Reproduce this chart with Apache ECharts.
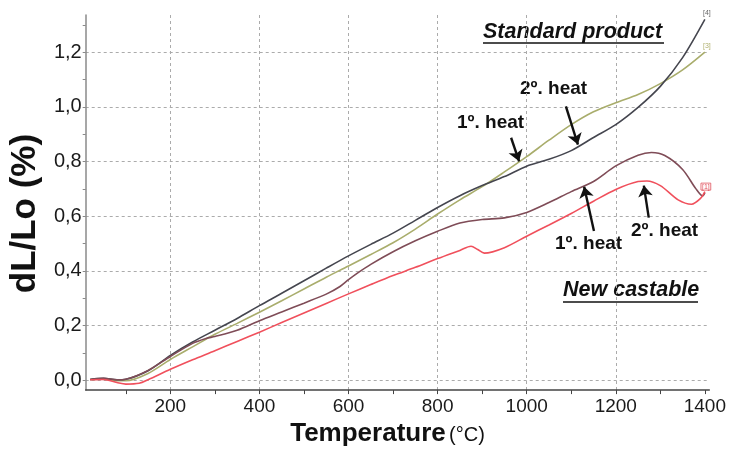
<!DOCTYPE html>
<html><head><meta charset="utf-8">
<script src="https://cdn.jsdelivr.net/npm/echarts@6/dist/echarts.min.js"></script>
<style>html,body{margin:0;padding:0;background:#fff}#c{width:729px;height:452px}</style>
</head><body><div id="c"></div>
<script>
// Standard product, 2º heat (dark curve, end mark [4])
const std2Temp = [20,50,80,100,150,200,250,300,350,400,450,500,550,600,650,700,750,800,850,900,950,1000,1050,1100,1150,1200,1250,1300,1350,1400];
const std2Val  = [0.003,0.007,0.002,0.004,0.035,0.091,0.140,0.183,0.226,0.273,0.318,0.364,0.410,0.455,0.497,0.538,0.585,0.632,0.675,0.712,0.745,0.783,0.808,0.840,0.888,0.935,0.998,1.075,1.180,1.320];
// Standard product, 1º heat (olive curve, end mark [3])
const std1Temp = [20,50,80,100,150,200,250,300,350,400,450,500,550,600,650,700,750,800,850,900,950,1000,1050,1100,1150,1200,1250,1300,1350,1400];
const std1Val  = [0.003,0.005,-0.002,-0.002,0.025,0.076,0.122,0.168,0.208,0.249,0.291,0.334,0.377,0.418,0.460,0.503,0.553,0.608,0.660,0.708,0.762,0.818,0.878,0.935,0.982,1.015,1.045,1.085,1.135,1.200];
// New castable, 1º heat (brown curve)
const new1Temp = [20,50,80,100,150,200,250,280,300,350,400,450,500,550,580,600,620,650,700,750,800,850,900,950,1000,1050,1100,1150,1200,1250,1280,1310,1350,1380,1395,1400];
const new1Val  = [0.003,0.007,0.002,0.004,0.036,0.087,0.135,0.153,0.160,0.183,0.218,0.250,0.282,0.315,0.342,0.368,0.392,0.424,0.470,0.510,0.545,0.575,0.588,0.594,0.614,0.650,0.690,0.727,0.784,0.823,0.833,0.822,0.771,0.700,0.674,0.686];
// New castable, 2º heat (red curve, end mark [1])
const new2Temp = [20,50,80,100,130,150,200,250,300,350,400,450,500,550,600,650,700,750,800,850,875,890,905,950,1000,1050,1100,1150,1200,1250,1270,1300,1340,1370,1390,1400];
const new2Val  = [0.002,0.003,-0.008,-0.014,-0.011,0.002,0.040,0.075,0.108,0.142,0.176,0.211,0.246,0.281,0.316,0.350,0.383,0.413,0.445,0.475,0.490,0.478,0.465,0.485,0.527,0.568,0.610,0.655,0.698,0.727,0.729,0.712,0.660,0.644,0.665,0.690];

const xTickValues  = [100,200,300,400,500,600,700,800,900,1000,1100,1200,1300,1400];
const xLabelValues = [200,400,600,800,1000,1200,1400];
const xGridValues  = [200,400,600,800,1000,1200];
const yTickValues  = [0,0.1,0.2,0.3,0.4,0.5,0.6,0.7,0.8,0.9,1.0,1.1,1.2,1.3];
const yLabelValues = [0,0.2,0.4,0.6,0.8,1.0,1.2];
const yGridValues  = [0,0.2,0.4,0.6,0.8,1.0,1.2];

// Arrow annotations: [fromTemp, fromVal, toTemp, toVal]
const arrowStd2 = [1088, 1.002, 1115, 0.862];
const arrowStd1 = [965, 0.887, 983, 0.801];
const arrowNew1 = [1151, 0.546, 1129, 0.708];
const arrowNew2 = [1274, 0.595, 1263, 0.712];

const zip = (a, b) => a.map((v, i) => [v, b[i]]);
const FONT = 'Liberation Sans, Arial, sans-serif';
const X_MIN = 10, X_MAX = 1410, Y_MIN = -0.036, Y_MAX = 1.336;

const chart = echarts.init(document.getElementById('c'), null, {renderer: 'canvas'});
const lineSeries = (name, data, color, endText, endStyle) => ({
  name, type: 'line', data, xAxisIndex: 0, yAxisIndex: 0,
  smooth: 0.3, showSymbol: false, symbol: 'none',
  lineStyle: {color, width: 1.6}, itemStyle: {color},
  endLabel: endText ? Object.assign({show: true, formatter: endText, fontSize: 7, fontFamily: FONT, distance: 0, align: 'center', offset: [2, -6]}, endStyle) : {show: false},
  z: 3
});

chart.setOption({
  animation: false,
  backgroundColor: '#ffffff',
  textStyle: {fontFamily: FONT},
  grid: {left: 85, right: 19, top: 15, bottom: 60, containLabel: false},
  xAxis: [{
    type: 'value', min: X_MIN, max: X_MAX,
    axisLine: {show: true, onZero: false, lineStyle: {color: '#444', width: 1.5}},
    axisTick: {show: true, customValues: xTickValues, length: 4, lineStyle: {color: '#444'}},
    axisLabel: {customValues: xLabelValues, fontSize: 19, color: '#1a1a1a', margin: 7, fontFamily: FONT,
      formatter: v => String(v)},
    splitLine: {show: false},
    name: '{b|Temperature} {n|(°C)}', nameLocation: 'middle', nameGap: 24,
    nameTextStyle: {padding: [0, 20, 0, 0], rich: {
      b: {fontSize: 26, fontWeight: 'bold', color: '#111', fontFamily: FONT},
      n: {fontSize: 20, color: '#111', fontFamily: FONT, padding: [3, 0, 0, 0]}
    }}
  }, {
    type: 'value', min: X_MIN, max: X_MAX, position: 'bottom',
    axisLine: {show: false}, axisTick: {show: false, customValues: xGridValues},
    axisLabel: {show: false, customValues: xGridValues},
    splitLine: {show: true, lineStyle: {color: '#ababab', width: 1, type: [3, 3]}}
  }],
  yAxis: [{
    type: 'value', min: Y_MIN, max: Y_MAX, position: 'left',
    axisLine: {show: true, onZero: false, lineStyle: {color: '#8a8a8a', width: 1.5}},
    axisTick: {show: true, customValues: yTickValues, length: 3, lineStyle: {color: '#8a8a8a'}},
    axisLabel: {customValues: yLabelValues, fontSize: 20, color: '#1a1a1a', margin: 4, fontFamily: FONT,
      formatter: v => v.toFixed(1).replace('.', ',')},
    splitLine: {show: false},
    name: 'dL/Lo (%)', nameLocation: 'middle', nameGap: 42,
    nameTextStyle: {fontSize: 35, fontWeight: 'bold', color: '#111', fontFamily: FONT, padding: [0, 22, 0, 0]}
  }, {
    type: 'value', min: Y_MIN, max: Y_MAX, position: 'left',
    axisLine: {show: false}, axisTick: {show: false, customValues: yGridValues},
    axisLabel: {show: false, customValues: yGridValues},
    splitLine: {show: true, lineStyle: {color: '#ababab', width: 1, type: [3, 3]}}
  }],
  series: [
    lineSeries('Standard product 1º heat', zip(std1Temp, std1Val), '#a9ad6c', '[3]', {color: '#b0b070'}),
    lineSeries('Standard product 2º heat', zip(std2Temp, std2Val), '#45464f', '[4]', {color: '#666'}),
    lineSeries('New castable 1º heat', zip(new1Temp, new1Val), '#7f4c57', null),
    Object.assign(lineSeries('New castable 2º heat', zip(new2Temp, new2Val), '#f0505c', '[1]', {color: '#e0505c', borderColor: '#e0505c', borderWidth: 0.8, padding: [0, 1], offset: [1, -5]}), {
      markLine: {
        silent: true, symbol: ['none', 'arrow'], symbolSize: 11, animation: false,
        label: {show: false},
        lineStyle: {color: '#111', width: 2.4, type: 'solid'},
        emphasis: {disabled: true},
        data: [arrowStd2, arrowStd1, arrowNew1, arrowNew2].map(a => [{coord: [a[0], a[1]]}, {coord: [a[2], a[3]]}])
      }
    })
  ],
  graphic: [
    {type: 'text', left: 483, top: 21, style: {text: 'Standard product', font: 'italic bold 21.5px ' + FONT, fill: '#111'}},
    {type: 'line', shape: {x1: 483, y1: 43, x2: 664, y2: 43}, style: {stroke: '#111', lineWidth: 1.5}},
    {type: 'text', left: 563, top: 279, style: {text: 'New castable', font: 'italic bold 21.5px ' + FONT, fill: '#111'}},
    {type: 'line', shape: {x1: 563, y1: 302, x2: 698, y2: 302}, style: {stroke: '#111', lineWidth: 1.5}},
    {type: 'text', left: 520, top: 79, style: {text: '2º. heat', font: 'bold 19px ' + FONT, fill: '#111'}},
    {type: 'text', left: 457, top: 113, style: {text: '1º. heat', font: 'bold 19px ' + FONT, fill: '#111'}},
    {type: 'text', left: 555, top: 234, style: {text: '1º. heat', font: 'bold 19px ' + FONT, fill: '#111'}},
    {type: 'text', left: 631, top: 221, style: {text: '2º. heat', font: 'bold 19px ' + FONT, fill: '#111'}}
  ]
});
</script></body></html>
